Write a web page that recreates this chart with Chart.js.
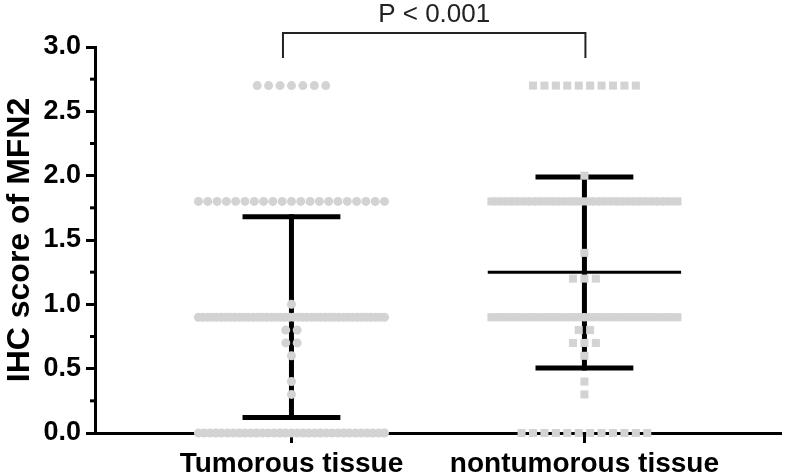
<!DOCTYPE html>
<html><head><meta charset="utf-8">
<script src="https://cdn.jsdelivr.net/npm/chart.js@4"></script>
<style>html,body{margin:0;padding:0;background:#fff}canvas{display:block}</style>
</head><body>
<canvas id="c" width="787" height="476"></canvas>
<script>
// ---- data ----
const categories = ['Tumorous tissue', 'nontumorous tissue'];
const tumorousLevels = [2.7, 1.8, 1.0, 0.9, 0.8, 0.7, 0.6, 0.4, 0.3, 0.0];
const tumorousCounts = [7, 21, 1, 42, 2, 2, 1, 1, 1, 33];
const nontumorousLevels = [2.7, 2.0, 1.8, 1.4, 1.2, 0.9, 0.8, 0.7, 0.6, 0.4, 0.3, 0.0];
const nontumorousCounts = [10, 1, 33, 1, 3, 38, 2, 3, 1, 1, 1, 12];
const groupMeans = [0.90, 1.25];
const sdLower = [0.12, 0.505];
const sdUpper = [1.68, 1.99];
const yTicks = [0, 0.5, 1.0, 1.5, 2.0, 2.5, 3.0];
const yMinorTicks = [0.25, 0.75, 1.25, 1.75, 2.25, 2.75];
const pValueLabel = 'P < 0.001';

// ---- layout constants ----
const ROW_STEP = 0.039;   // category units between neighbouring points
const ROW_MAX = 0.635;    // max row width, category units
const MEAN_HALF = 0.33;
const CAP_HALF = 0.167;
const FONT = '"Liberation Sans", Arial, sans-serif';
Chart.defaults.font.family = FONT;

function spreadRows(levels, counts, center) {
  const pts = [];
  levels.forEach((v, r) => {
    const n = counts[r];
    const step = n > 1 ? Math.min(ROW_STEP, ROW_MAX / (n - 1)) : 0;
    for (let i = 0; i < n; i++) pts.push({ x: center + (i - (n - 1) / 2) * step, y: v });
  });
  return pts;
}

const errorBars = {
  id: 'errorBars',
  beforeDatasetsDraw(chart) {
    const { ctx, scales: { x, y } } = chart;
    ctx.save();
    ctx.strokeStyle = '#000';
    ctx.lineCap = 'butt';
    const seg = (x1, y1, x2, y2, w) => { ctx.lineWidth = w; ctx.beginPath(); ctx.moveTo(x1, y1); ctx.lineTo(x2, y2); ctx.stroke(); };
    groupMeans.forEach((m, i) => {
      const c = i + 1;
      const cx = x.getPixelForValue(c);
      const ym = y.getPixelForValue(m), yl = y.getPixelForValue(sdLower[i]), yu = y.getPixelForValue(sdUpper[i]);
      seg(x.getPixelForValue(c - MEAN_HALF), ym, x.getPixelForValue(c + MEAN_HALF), ym, 3);
      seg(cx, yl + 2.5, cx, yu - 2.5, 5);
      seg(x.getPixelForValue(c - CAP_HALF), yu, x.getPixelForValue(c + CAP_HALF), yu, 5);
      seg(x.getPixelForValue(c - CAP_HALF), yl, x.getPixelForValue(c + CAP_HALF), yl, 5);
    });
    ctx.restore();
  }
};

const extras = {
  id: 'extras',
  afterDraw(chart) {
    const { ctx, chartArea, scales: { x, y } } = chart;
    ctx.save();
    // minor y ticks
    ctx.strokeStyle = '#000';
    ctx.lineWidth = 3;
    yMinorTicks.forEach(v => {
      const py = y.getPixelForValue(v);
      ctx.beginPath(); ctx.moveTo(chartArea.left - 5, py); ctx.lineTo(chartArea.left, py); ctx.stroke();
    });
    // significance bracket
    const x1 = x.getPixelForValue(1) - 8.5, x2 = x.getPixelForValue(2) + 1;
    const top = y.getPixelForValue(3) - 14, leg = y.getPixelForValue(3) + 11;
    ctx.strokeStyle = '#222';
    ctx.lineWidth = 2;
    ctx.beginPath(); ctx.moveTo(x1, leg); ctx.lineTo(x1, top); ctx.lineTo(x2, top); ctx.lineTo(x2, leg); ctx.stroke();
    ctx.fillStyle = '#222';
    ctx.font = '26px ' + FONT;
    ctx.textAlign = 'center';
    ctx.textBaseline = 'alphabetic';
    ctx.fillText(pValueLabel, (x1 + x2) / 2, top - 11);
    ctx.restore();
  }
};

new Chart(document.getElementById('c'), {
  type: 'scatter',
  data: {
    datasets: [
      { label: categories[0], data: spreadRows(tumorousLevels, tumorousCounts, 1), pointStyle: 'circle', pointRadius: 4.5,
        backgroundColor: '#d3d3d3', borderWidth: 0, clip: false },
      { label: categories[1], data: spreadRows(nontumorousLevels, nontumorousCounts, 2), pointStyle: 'rect', pointRadius: 5.7,
        backgroundColor: '#d3d3d3', borderWidth: 0, clip: false }
    ]
  },
  options: {
    responsive: false, animation: false, events: [], devicePixelRatio: 1,
    layout: { padding: { top: 47, right: 2, left: 0, bottom: 0 } },
    plugins: { legend: { display: false }, tooltip: { enabled: false } },
    scales: {
      x: {
        type: 'linear', min: 0.3294, max: 2.672,
        afterBuildTicks: s => { s.ticks = categories.map((c, i) => ({ value: i + 1 })); },
        afterFit: s => { s.height = 43; },
        grid: { drawOnChartArea: false, drawTicks: true, tickLength: 10, tickWidth: 3, tickColor: '#000' },
        border: { display: true, color: '#000', width: 3 },
        ticks: { callback: (v, i) => categories[i], color: '#000', font: { size: 28, weight: 'bold' }, padding: 4, maxRotation: 0, autoSkip: false }
      },
      y: {
        min: 0, max: 3,
        afterBuildTicks: s => { s.ticks = yTicks.map(v => ({ value: v })); },
        afterFit: s => { s.width = 95; },
        grid: { drawOnChartArea: false, drawTicks: true, tickLength: 9, tickWidth: 3, tickColor: '#000' },
        border: { display: true, color: '#000', width: 3 },
        ticks: { callback: v => Number(v).toFixed(1), color: '#000', font: { size: 27, weight: 'bold' }, padding: 5 },
        title: { display: true, text: 'IHC score of MFN2', color: '#000', font: { size: 32, weight: 'bold' }, padding: { top: 1, bottom: 0 } }
      }
    }
  },
  plugins: [errorBars, extras]
});
</script>
</body></html>
